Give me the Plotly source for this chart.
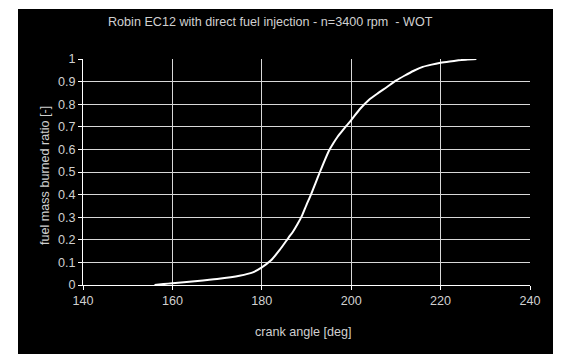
import plotly.graph_objects as go

crank_angle = [156, 158, 160, 165, 170, 175, 178, 180, 182, 184, 186, 187, 188, 189, 190,
               191, 192, 193, 194, 195, 196, 197, 198, 199, 200, 202, 204, 206, 208, 210,
               212, 214, 216, 218, 220, 222, 224, 226, 228]
burned_ratio = [0.0, 0.004, 0.008, 0.017, 0.027, 0.041, 0.056, 0.078, 0.108, 0.155, 0.21,
                0.237, 0.27, 0.307, 0.355, 0.40, 0.45, 0.50, 0.548, 0.593, 0.627, 0.657,
                0.682, 0.706, 0.73, 0.78, 0.82, 0.849, 0.876, 0.904, 0.927, 0.948, 0.965,
                0.975, 0.983, 0.989, 0.994, 0.998, 1.0]

title_text = "Robin EC12 with direct fuel injection - n=3400 rpm  - WOT"
x_title = "crank angle [deg]"
y_title = "fuel mass burned ratio [-]"

# page body has an 8px margin; figure coordinates are shifted accordingly
OFF = 8
W, H = 561 - OFF, 354 - OFF
ml, mr, mt, mb = 83 - OFF, 31, 59 - OFF, 69
pw, ph = W - ml - mr, H - mt - mb

def px2x(px):
    return (px - OFF - ml) / pw

def py2y(py):
    return (H - mb - (py - OFF)) / ph

txt = "#d0d0d0"
grid = "#d8d8d8"
font_family = "Liberation Sans, Arial, sans-serif"
fs = 12.6

fig = go.Figure()
fig.add_trace(go.Scatter(x=crank_angle, y=burned_ratio, mode="lines",
                         line=dict(color="white", width=2, shape="spline", smoothing=0.6),
                         showlegend=False, hoverinfo="skip"))

fig.update_layout(
    width=W, height=H,
    margin=dict(l=ml, r=mr, t=mt, b=mb),
    paper_bgcolor="white",
    plot_bgcolor="black",
    font=dict(family=font_family, size=fs, color=txt),
    showlegend=False,
    shapes=[dict(type="rect", xref="paper", yref="paper",
                 x0=px2x(18), x1=px2x(570), y0=py2y(365), y1=py2y(9),
                 fillcolor="black", line=dict(width=0), layer="below")],
    annotations=[
        dict(text=title_text, xref="paper", yref="paper", x=px2x(270), y=py2y(22),
             xanchor="center", yanchor="middle", showarrow=False,
             font=dict(size=fs, color=txt)),
        dict(text=x_title, xref="paper", yref="paper", x=px2x(303), y=py2y(332),
             xanchor="center", yanchor="middle", showarrow=False,
             font=dict(size=fs, color=txt)),
        dict(text=y_title, xref="paper", yref="paper", x=px2x(45), y=py2y(176),
             xanchor="center", yanchor="middle", showarrow=False, textangle=-90,
             font=dict(size=fs, color=txt)),
    ],
)

fig.update_xaxes(range=[140, 240], dtick=20, tick0=140, showgrid=True, gridcolor=grid,
                 gridwidth=1, zeroline=False, showline=True, linecolor="white",
                 linewidth=1, ticks="outside", ticklen=4, tickcolor="white",
                 tickfont=dict(size=fs, color=txt), fixedrange=True)
fig.update_yaxes(range=[0, 1], dtick=0.1, tick0=0, showgrid=True, gridcolor=grid,
                 gridwidth=1, zeroline=False, showline=True, linecolor="white",
                 linewidth=1, ticks="outside", ticklen=4, tickcolor="white",
                 tickfont=dict(size=fs, color=txt), fixedrange=True)

fig.write_html("out.html")
